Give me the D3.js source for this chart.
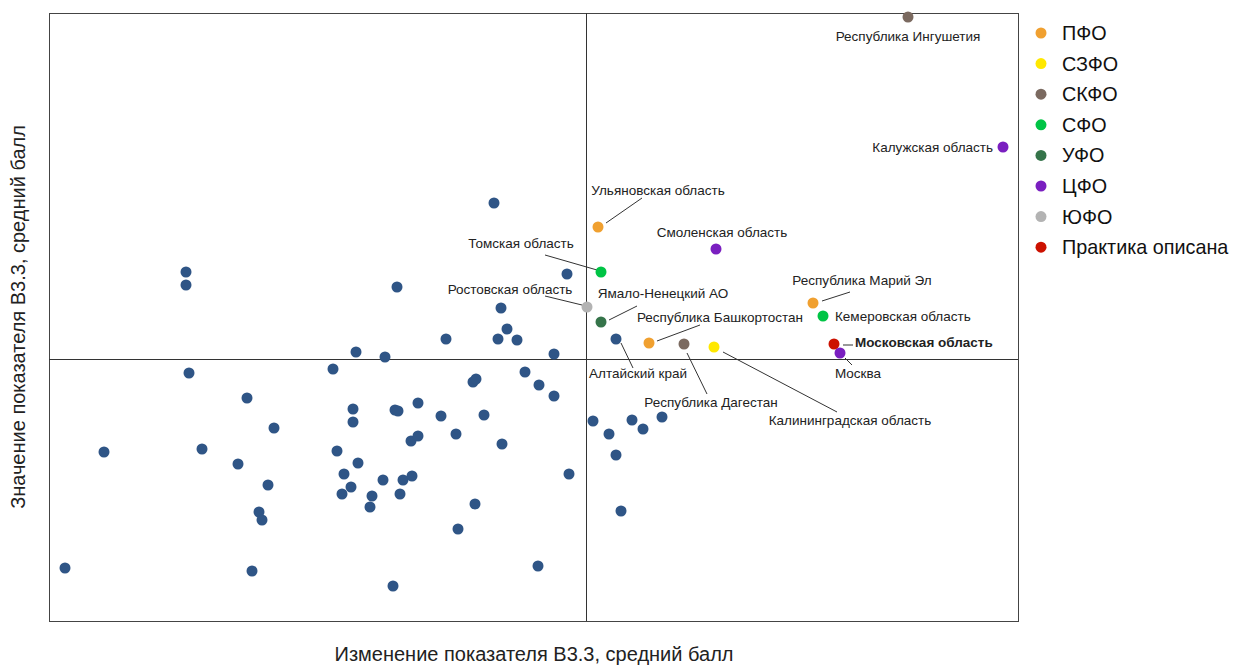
<!DOCTYPE html>
<html>
<head>
<meta charset="utf-8">
<script src="https://cdn.jsdelivr.net/npm/d3@7/dist/d3.min.js"></script>
<style>
  html, body { margin: 0; padding: 0; background: #fff; }
  svg { display: block; font-family: "Liberation Sans", Arial, sans-serif; }
</style>
</head>
<body>
<svg id="chart" width="1233" height="665"></svg>
<script>
// ---------- DATA ----------
const xTitle = "Изменение показателя В3.3, средний балл";
const yTitle = "Значение показателя В3.3, средний балл";
const xRef = 0, yRef = 0;          // quadrant dividers
const xDomain = [-5.37, 4.32];
const yDomain = [-2.62, 3.46];

const legendGroups = ["ПФО", "СЗФО", "СКФО", "СФО", "УФО", "ЦФО", "ЮФО", "Практика описана"];

// unlabelled regions (x = change, y = value)
const otherX = [-4.00,-4.00,-3.97,-2.53,-3.39,-0.92,-0.19,-1.89,-0.85,-0.79,-0.88,-0.69,-1.40,-2.30,-2.01,-0.32,
  -0.61,-1.13,-1.10,-0.47,-0.32,-1.68,-2.33,-1.91,-1.88,-1.45,-1.02,-2.33,-1.30,-1.75,-1.68,-0.84,-2.49,-2.28,
  -2.42,-2.03,-1.83,-1.74,-0.17,0.07,-2.35,-2.44,-2.14,-2.16,-1.86,-1.11,-1.28,-0.48,-1.93,-3.12,-4.82,-3.84,
  -3.48,-3.18,-3.27,-3.24,-5.21,-3.34,0.23,0.46,0.57,0.76,0.30,0.35];
const otherY = [0.87,0.74,-0.14,-0.10,-0.39,1.56,0.85,0.72,0.51,0.30,0.20,0.19,0.20,0.07,0.02,0.05,
  -0.13,-0.23,-0.20,-0.26,-0.37,-0.44,-0.50,-0.51,-0.52,-0.57,-0.56,-0.63,-0.75,-0.82,-0.77,-0.85,-0.92,-1.04,
  -1.15,-1.21,-1.21,-1.17,-1.15,-0.62,-1.28,-1.35,-1.37,-1.48,-1.35,-1.45,-1.70,-2.07,-2.27,-0.69,-0.93,-0.90,
  -1.05,-1.26,-1.53,-1.61,-2.09,-2.12,-0.75,-0.61,-0.70,-0.58,-0.96,-1.52];

// labelled regions
const namedRegions = ["Ульяновская область","Смоленская область","Томская область","Ростовская область",
  "Ямало-Ненецкий АО","Республика Башкортостан","Республика Дагестан","Калининградская область",
  "Республика Марий Эл","Кемеровская область","Московская область","Москва","Алтайский край",
  "Республика Ингушетия","Калужская область"];
const namedGroup = ["ПФО","ЦФО","СФО","ЮФО","УФО","ПФО","СКФО","СЗФО","ПФО","СФО","Практика описана","ЦФО",
  "Прочие","СКФО","ЦФО"];
const namedX = [0.12,1.30,0.15,0.01,0.15,0.63,0.98,1.28,2.27,2.37,2.48,2.54,0.30,3.22,4.17];
const namedY = [1.32,1.10,0.87,0.52,0.37,0.16,0.15,0.12,0.56,0.43,0.15,0.06,0.20,3.42,2.12];

// ---------- STYLE / LAYOUT ----------
const colors = {
  "ПФО": "#f0a030", "СЗФО": "#ffe800", "СКФО": "#7b6a60", "СФО": "#00c445",
  "УФО": "#35744a", "ЦФО": "#7a1fc0", "ЮФО": "#b3b3b3", "Практика описана": "#cc1100",
  "Прочие": "#2f5586"
};
// label offsets relative to point: [dx, dy, anchor, leader(x1,y1,x2,y2) or null, bold]
const labelLayout = {
  "Ульяновская область":     [60,-37,"middle",[8,-4,44,-29]],
  "Смоленская область":      [6,-17,"middle",null],
  "Томская область":         [-80,-29,"middle",[-56,-17,-4,-2]],
  "Ростовская область":      [-77,-18,"middle",[-42,-11,-5,-2]],
  "Ямало-Ненецкий АО":       [62,-29,"middle",[8,-2,36,-16]],
  "Республика Башкортостан": [71,-26,"middle",[8,-2,51,-18]],
  "Республика Дагестан":     [27,58,"middle",[3,9,23,50]],
  "Калининградская область": [136,73,"middle",[9,5,123,65]],
  "Республика Марий Эл":     [49,-23,"middle",[9,-2,37,-11]],
  "Кемеровская область":     [12,0,"start",null],
  "Московская область":      [21,-2,"start",[9,1,19,1],true],
  "Москва":                  [18,20,"middle",[5,5,12,12]],
  "Алтайский край":          [22,34,"middle",[5,4,17,29]],
  "Республика Ингушетия":    [0,19,"middle",null],
  "Калужская область":       [-10,0,"end",null]
};

const plot = {left: 49, right: 1018, top: 13, bottom: 621};
const R = 5.5;

const svg = d3.select("#chart");
const x = d3.scaleLinear().domain(xDomain).range([plot.left, plot.right]);
const y = d3.scaleLinear().domain(yDomain).range([plot.bottom, plot.top]);

// frame
svg.append("rect")
  .attr("x", plot.left + 0.5).attr("y", plot.top + 0.5)
  .attr("width", plot.right - plot.left).attr("height", plot.bottom - plot.top)
  .attr("fill", "none").attr("stroke", "#444").attr("stroke-width", 1);

// quadrant lines
svg.append("line")
  .attr("x1", Math.round(x(xRef)) + 0.5).attr("x2", Math.round(x(xRef)) + 0.5)
  .attr("y1", plot.top).attr("y2", plot.bottom)
  .attr("stroke", "#333").attr("stroke-width", 1);
svg.append("line")
  .attr("x1", plot.left).attr("x2", plot.right)
  .attr("y1", Math.round(y(yRef)) + 0.5).attr("y2", Math.round(y(yRef)) + 0.5)
  .attr("stroke", "#333").attr("stroke-width", 1);

// other points
const others = otherX.map((v, i) => ({x: v, y: otherY[i]}));
svg.append("g").selectAll("circle").data(others).join("circle")
  .attr("cx", d => x(d.x)).attr("cy", d => y(d.y)).attr("r", R)
  .attr("fill", colors["Прочие"]);

// named points
const named = namedRegions.map((n, i) => ({name: n, group: namedGroup[i], x: namedX[i], y: namedY[i]}));

const gl = svg.append("g");
named.forEach(d => {
  const L = labelLayout[d.name];
  const px = x(d.x), py = y(d.y);
  if (L[3]) {
    gl.append("line")
      .attr("x1", px + L[3][0]).attr("y1", py + L[3][1])
      .attr("x2", px + L[3][2]).attr("y2", py + L[3][3])
      .attr("stroke", "#333").attr("stroke-width", 1);
  }
  gl.append("text")
    .attr("x", px + L[0]).attr("y", py + L[1])
    .attr("dy", "0.35em")
    .attr("text-anchor", L[2])
    .attr("font-size", 13.5)
    .attr("font-weight", L[4] ? "bold" : "normal")
    .attr("fill", "#222")
    .text(d.name);
});

svg.append("g").selectAll("circle").data(named).join("circle")
  .attr("cx", d => x(d.x)).attr("cy", d => y(d.y)).attr("r", R)
  .attr("fill", d => colors[d.group]);

// legend
const lg = svg.append("g").attr("transform", "translate(1041,33)");
legendGroups.forEach((g, i) => {
  const row = lg.append("g").attr("transform", `translate(0,${i * 30.6})`);
  row.append("circle").attr("r", 5.5).attr("fill", colors[g]);
  row.append("text").attr("x", 21).attr("dy", "0.35em")
    .attr("font-size", 19.8).attr("fill", "#111").text(g);
});

// axis titles
svg.append("text")
  .attr("x", 534).attr("y", 654)
  .attr("dy", "0.35em")
  .attr("text-anchor", "middle").attr("font-size", 20).attr("fill", "#222")
  .text(xTitle);
svg.append("text")
  .attr("transform", "translate(18,317) rotate(-90)")
  .attr("dy", "0.35em")
  .attr("text-anchor", "middle").attr("font-size", 20).attr("fill", "#222")
  .text(yTitle);
</script>
</body>
</html>
